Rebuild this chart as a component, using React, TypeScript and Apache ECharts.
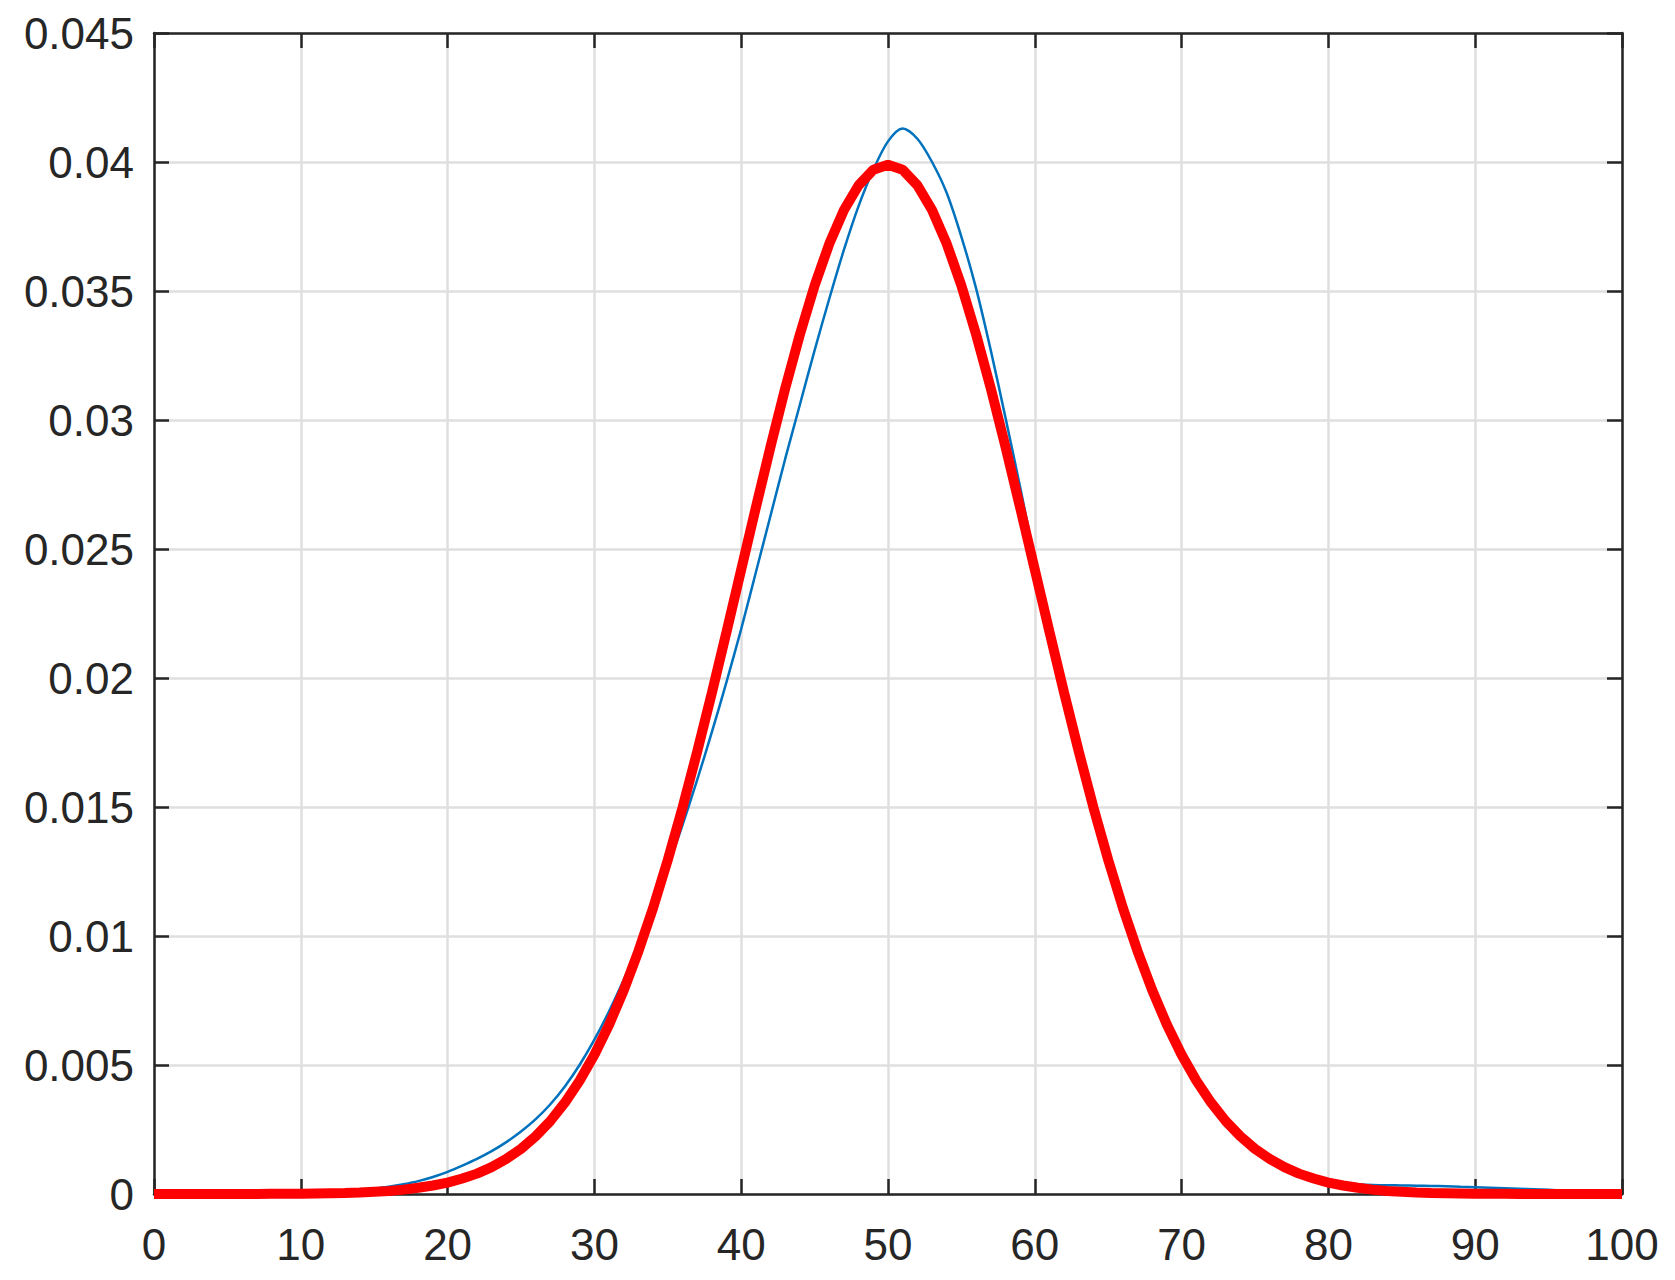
import React, { useEffect, useRef } from "react";
import * as echarts from "echarts";

const xValues = [
  0, 1, 2, 3, 4, 5, 6, 7, 8, 9,
  10, 11, 12, 13, 14, 15, 16, 17, 18, 19,
  20, 21, 22, 23, 24, 25, 26, 27, 28, 29,
  30, 31, 32, 33, 34, 35, 36, 37, 38, 39,
  40, 41, 42, 43, 44, 45, 46, 47, 48, 49,
  50, 51, 52, 53, 54, 55, 56, 57, 58, 59,
  60, 61, 62, 63, 64, 65, 66, 67, 68, 69,
  70, 71, 72, 73, 74, 75, 76, 77, 78, 79,
  80, 81, 82, 83, 84, 85, 86, 87, 88, 89,
  90, 91, 92, 93, 94, 95, 96, 97, 98, 99,
  100,
];

// blue (estimated density)
const blueValues = [
  0, 0, 0, 0, 0.00001, 0.00001, 0.00001, 0.00002, 0.00002, 0.00003,
  0.00004, 0.00005, 0.00007, 0.0001, 0.00014, 0.0002, 0.00028, 0.00038, 0.0005, 0.00066,
  0.00086, 0.0011, 0.00136, 0.00166, 0.00201, 0.00242, 0.0029, 0.00348, 0.00418, 0.00501,
  0.00598, 0.00708, 0.0083, 0.00965, 0.0111, 0.01265, 0.0143, 0.01605, 0.0179, 0.01985,
  0.0219, 0.0241, 0.0263, 0.0285, 0.0306, 0.0327, 0.0347, 0.0366, 0.0383, 0.0397,
  0.0408, 0.0413, 0.0409, 0.04, 0.0388, 0.0371, 0.0351, 0.0327, 0.0301, 0.0274,
  0.0246, 0.0219, 0.0193, 0.017, 0.0148, 0.0128, 0.0109, 0.0092, 0.0077, 0.00635,
  0.0052, 0.0042, 0.0034, 0.00272, 0.00215, 0.00168, 0.0013, 0.00101, 0.00079, 0.00063,
  0.00051, 0.00043, 0.00038, 0.00035, 0.00034, 0.00033, 0.00032, 0.00031, 0.0003, 0.00028,
  0.00026, 0.00024, 0.00022, 0.0002, 0.00018, 0.00016, 0.00013, 0.0001, 0.00007, 0.00005,
  0.00003,
];

// red (reference normal density)
const redValues = [
  0, 0, 0, 0, 0, 0, 0, 0, 0.00001, 0.00001,
  0.00001, 0.00002, 0.00003, 0.00004, 0.00006, 0.00009, 0.00012, 0.00017, 0.00024, 0.00033,
  0.00044, 0.0006, 0.00079, 0.00104, 0.00136, 0.00175, 0.00224, 0.00283, 0.00355, 0.0044,
  0.0054, 0.00656, 0.0079, 0.00941, 0.01109, 0.01295, 0.01497, 0.01714, 0.01942, 0.02179,
  0.0242, 0.02661, 0.02897, 0.03123, 0.03332, 0.03521, 0.03683, 0.03814, 0.0391, 0.0397,
  0.03989, 0.0397, 0.0391, 0.03814, 0.03683, 0.03521, 0.03332, 0.03123, 0.02897, 0.02661,
  0.0242, 0.02179, 0.01942, 0.01714, 0.01497, 0.01295, 0.01109, 0.00941, 0.0079, 0.00656,
  0.0054, 0.0044, 0.00355, 0.00283, 0.00224, 0.00175, 0.00136, 0.00104, 0.00079, 0.0006,
  0.00044, 0.00033, 0.00024, 0.00017, 0.00012, 0.00009, 0.00006, 0.00004, 0.00003, 0.00002,
  0.00001, 0.00001, 0.00001, 0, 0, 0, 0, 0, 0, 0,
  0,
];

const AXIS_COLOR = "#262626";
const GRID_COLOR = "#dfdfdf";
const FONT = "'Liberation Sans', Arial, Helvetica, sans-serif";

function fmtY(v: number): string {
  if (Math.abs(v) < 1e-12) return "0";
  return String(parseFloat(v.toFixed(4)));
}

export default function App() {
  const ref = useRef<HTMLDivElement>(null);

  useEffect(() => {
    document.body.style.margin = "0";
    if (!ref.current) return;
    const chart = echarts.init(ref.current, undefined, { renderer: "svg" });

    const blueData = xValues.map((x, i) => [x, blueValues[i]]);
    const redData = xValues.map((x, i) => [x, redValues[i]]);

    const tickCommon = {
      show: true,
      inside: true,
      length: 15,
      lineStyle: { color: AXIS_COLOR, width: 2.5 },
    };
    const lineCommon = {
      show: true,
      onZero: false,
      lineStyle: { color: AXIS_COLOR, width: 2.5 },
    };

    chart.setOption({
      animation: false,
      backgroundColor: "#ffffff",
      grid: { left: 154, top: 33, right: 53, bottom: 86, containLabel: false },
      xAxis: [
        {
          type: "value",
          min: 0,
          max: 100,
          interval: 10,
          position: "bottom",
          axisLine: lineCommon,
          axisTick: tickCommon,
          axisLabel: {
            color: AXIS_COLOR,
            fontSize: 44,
            fontFamily: FONT,
            margin: 28,
          },
          splitLine: { show: true, lineStyle: { color: GRID_COLOR, width: 2.5 } },
        },
        {
          type: "value",
          min: 0,
          max: 100,
          interval: 10,
          position: "top",
          axisLine: lineCommon,
          axisTick: tickCommon,
          axisLabel: { show: false },
          splitLine: { show: false },
        },
      ],
      yAxis: [
        {
          type: "value",
          min: 0,
          max: 0.045,
          interval: 0.005,
          position: "left",
          axisLine: lineCommon,
          axisTick: tickCommon,
          axisLabel: {
            color: AXIS_COLOR,
            fontSize: 44,
            fontFamily: FONT,
            margin: 20,
            formatter: (v: number) => fmtY(v),
          },
          splitLine: { show: true, lineStyle: { color: GRID_COLOR, width: 2.5 } },
        },
        {
          type: "value",
          min: 0,
          max: 0.045,
          interval: 0.005,
          position: "right",
          axisLine: lineCommon,
          axisTick: tickCommon,
          axisLabel: { show: false },
          splitLine: { show: false },
        },
      ],
      series: [
        {
          type: "line",
          data: blueData,
          showSymbol: false,
          symbol: "none",
          smooth: 0.3,
          lineStyle: { color: "#0072BD", width: 2.5 },
          clip: false,
          z: 3,
        },
        {
          type: "line",
          data: redData,
          showSymbol: false,
          symbol: "none",
          lineStyle: { color: "#FF0000", width: 10 },
          clip: false,
          z: 4,
        },
      ],
    });

    return () => {
      chart.dispose();
    };
  }, []);

  return <div ref={ref} style={{ width: 1675, height: 1280 }} />;
}
